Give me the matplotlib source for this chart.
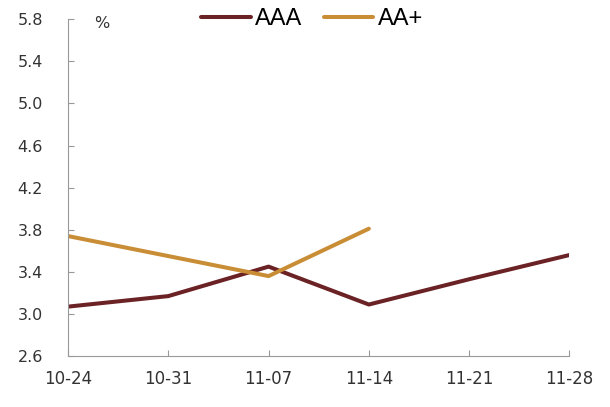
import matplotlib

matplotlib.use("Agg")

import matplotlib.pyplot as plt

plt.rcParams["font.family"] = ["DejaVu Sans"]

dates = ["10-24", "10-31", "11-07", "11-14", "11-21", "11-28"]
aaa = [3.07, 3.17, 3.45, 3.09, 3.33, 3.56]
aa_plus = [3.74, 3.55, 3.36, 3.81]
y_ticks = [2.6, 3.0, 3.4, 3.8, 4.2, 4.6, 5.0, 5.4, 5.8]

fig = plt.figure(figsize=(6.1, 4.07), dpi=100)
ax = fig.add_axes([0.1115, 0.125, 0.822, 0.828])

x = list(range(len(dates)))
ax.plot(x, aaa, color="#6B2225", linewidth=2.9, label="AAA", solid_capstyle="round")
ax.plot(x[:len(aa_plus)], aa_plus, color="#C98D35", linewidth=2.9, label="AA+",
        solid_capstyle="round")

ax.set_xlim(0, len(dates) - 1)
ax.set_ylim(2.6, 5.8)
ax.set_xticks(x)
ax.set_xticklabels(dates)
ax.set_yticks(y_ticks)
ax.set_yticklabels([f"{v:.1f}" for v in y_ticks])

for side in ("top", "right"):
    ax.spines[side].set_visible(False)
for side in ("left", "bottom"):
    ax.spines[side].set_color("#999999")
    ax.spines[side].set_linewidth(0.8)
ax.tick_params(axis="both", direction="in", length=4, width=0.8, color="#999999",
               labelcolor="#333333")
ax.tick_params(axis="x", pad=10, labelsize=12)
ax.tick_params(axis="y", pad=18, labelsize=11.5)

ax.text(0.052, 1.01, "%", transform=ax.transAxes, fontsize=11.5, va="top", color="#333333")

ax.legend(loc="center", bbox_to_anchor=(0.487, 1.0), ncol=2, frameon=False,
          prop={"family": "Liberation Sans", "size": 17},
          handlelength=2.1, handletextpad=0.2, columnspacing=0.9, borderpad=0.2)

fig.savefig("out.png", dpi=100)
plt.close(fig)
